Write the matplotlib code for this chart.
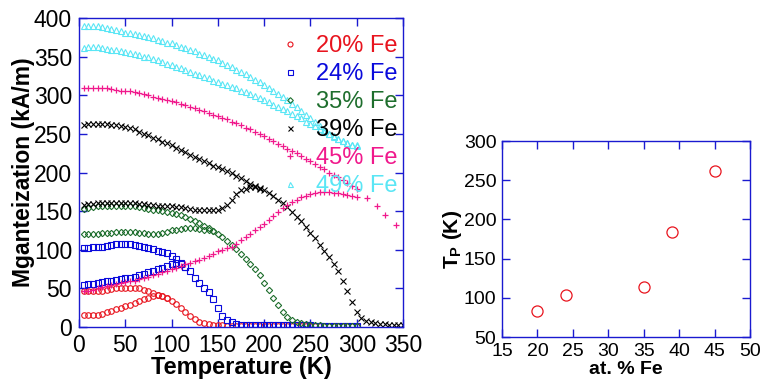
import matplotlib
matplotlib.use('Agg')
import matplotlib.pyplot as plt

plt.rcParams['font.family'] = ['Liberation Sans', 'DejaVu Sans']
plt.rcParams['mathtext.fontset'] = 'custom'
plt.rcParams['mathtext.rm'] = 'Liberation Sans'
plt.rcParams['mathtext.bf'] = 'Liberation Sans:bold'

# temperature grid (K) of the measurements
T = list(range(5, 305, 5))
T_tail = list(range(305, 355, 5))

# 20% Fe
fc_20 = [46, 46, 46, 46, 47, 48, 49, 50, 50, 51, 51, 51, 50, 48, 46, 44, 42, 40, 37, 34,
         30, 25, 19, 14, 10, 7, 5, 4, 3, 2, 2, 1.5, 1.5, 1.5, 1.2, 1.2, 1.2, 1, 1, 1,
         1, 1, 1, 1, 1, 1, 1, 1, 1, 1, 1, 1, 1, 1, 1, 1, 1, 1, 1, 1]
zfc_20 = [15, 15, 15.5, 16, 17, 19, 21, 23, 25, 27, 29, 31, 34, 36, 38, 40, 41, 40, 37]
# 24% Fe
fc_24 = [102, 102, 103, 103, 104, 105, 106, 107, 107, 107, 107, 106, 105, 104, 102, 101, 99, 97, 96, 92,
         88, 83, 78, 72, 64, 57, 51, 45, 36, 25, 14, 9, 6, 4, 3, 3, 2.5, 2.5, 2.5, 2,
         2, 2, 2, 2, 2, 2, 2, 2, 2, 2, 1.5, 1.5, 1.5, 1.5, 1.5, 1.5, 1.5, 1.5, 1.5, 1.5]
zfc_24 = [55, 56, 56, 57, 58, 59, 60, 61, 62, 63, 64, 65, 67, 69, 71, 73, 75, 77, 79, 81,
          83, 82, 78]
# 35% Fe
fc_35 = [153, 154, 155, 156, 156, 157, 157, 157, 157, 157, 156, 156, 155, 154, 153, 152, 151, 150, 149, 148,
         146, 145, 143, 140, 137, 134, 131, 128, 124, 120, 116, 111, 106, 101, 95, 88, 82, 75, 67, 57,
         48, 38, 29, 20, 13, 9, 7, 5, 4, 3, 2, 2, 1.5, 1.5, 1.5, 1, 1, 1, 1, 1]
zfc_35 = [120, 120, 121, 121, 122, 122, 122, 123, 123, 123, 123, 123, 122, 122, 121, 121, 121, 122, 123, 125,
          126, 127, 128, 128, 128, 127, 126, 125, 124]
# 39% Fe
fc_39 = [262, 263, 263, 263, 263, 263, 262, 261, 260, 259, 257, 256, 253, 250, 248, 245, 243, 240, 238, 235,
         232, 229, 226, 223, 220, 218, 215, 212, 209, 207, 204, 202, 199, 196, 193, 189, 185, 182, 179, 177,
         173, 169, 165, 161, 155, 149, 143, 137, 130, 122, 115, 106, 98, 90, 82, 72, 60, 46, 32, 20]
fc_39_tail = [12, 8, 6, 5, 4, 4, 3, 3, 3, 3]
zfc_39 = [158, 159, 159, 160, 160, 161, 161, 161, 161, 161, 160, 160, 159, 159, 158, 158, 157, 157, 156, 156,
          155, 155, 154, 153, 152, 152, 151, 151, 151, 152, 154, 158, 165, 172, 177, 179, 181, 181, 180]
# 45% Fe
fc_45 = [310, 310, 310, 310, 309, 309, 308, 307, 306, 305, 305, 304, 303, 301, 300, 298, 297, 295, 294, 292,
         291, 289, 287, 285, 283, 281, 279, 277, 275, 273, 271, 269, 266, 264, 261, 258, 256, 253, 250, 247,
         244, 241, 237, 234, 231, 228, 225, 222, 218, 215, 211, 207, 204, 200, 197, 194, 190, 186, 182, 178]
T_45_tail = [311, 322, 331, 342]
fc_45_tail = [167, 156, 145, 132]
zfc_45 = [46, 47, 48, 50, 52, 53, 54, 56, 57, 58, 59, 60, 62, 64, 65, 67, 69, 71, 72, 75,
          77, 79, 81, 83, 85, 87, 89, 92, 95, 98, 100, 102, 104, 108, 112, 117, 121, 125, 129, 133,
          138, 144, 149, 154, 158, 162, 165, 168, 170, 172, 174, 175, 175, 175, 174, 173, 172, 171, 170, 168]
# 49% Fe
fc_49 = [389, 389, 389, 389, 388, 387, 386, 384, 383, 381, 380, 379, 378, 377, 376, 374, 372, 370, 368, 367,
         365, 363, 361, 359, 357, 354, 352, 350, 347, 345, 342, 339, 336, 333, 330, 327, 324, 320, 317, 313,
         310, 306, 302, 298, 294, 289, 285, 280, 275, 270, 265, 260, 255, 250, 246, 243, 241, 238, 236, 235]
zfc_49 = [361, 362, 362, 362, 361, 360, 359, 358, 357, 356, 355, 353, 352, 350, 349, 347, 345, 343, 341, 339,
          337, 335, 333, 330, 328, 326, 324, 322, 319, 317, 315, 313, 311, 309, 306, 304, 301, 299, 296, 294,
          291, 288, 285, 282, 279, 276, 273, 270, 266, 263, 260, 256, 253, 250, 247, 244, 241, 238, 236, 234]

# peak temperature vs composition
fe_pct = [20, 24, 35, 39, 45]
t_peak = [83, 103, 114, 184, 262]

c_red = '#e8141e'
c_blue = '#0a0adc'
c_green = '#1e6e2d'
c_black = '#000000'
c_pink = '#f0198c'
c_cyan = '#5ae6f5'
spine_col = '#1a1ad0'

fig = plt.figure(figsize=(7.61, 3.79), dpi=100)
ax = fig.add_axes([0.1038, 0.1372, 0.4258, 0.8153])
ax2 = fig.add_axes([0.6597, 0.1108, 0.3259, 0.517])

mk = dict(linestyle='none', fillstyle='none', markersize=4, markeredgewidth=0.8)

h20, = ax.plot(T, fc_20, 'o', color=c_red, **mk)
ax.plot(T[:len(zfc_20)], zfc_20, 'o', color=c_red, **mk)
h24, = ax.plot(T, fc_24, 's', color=c_blue, **mk)
ax.plot(T[:len(zfc_24)], zfc_24, 's', color=c_blue, **mk)
h35, = ax.plot(T, fc_35, 'D', color=c_green, markersize=3.2, markeredgewidth=0.8,
               linestyle='none', fillstyle='none')
ax.plot(T[:len(zfc_35)], zfc_35, 'D', color=c_green, markersize=3.2, markeredgewidth=0.8,
        linestyle='none', fillstyle='none')
h39, = ax.plot(T + T_tail, fc_39 + fc_39_tail, 'x', color=c_black, **mk)
ax.plot(T[:len(zfc_39)], zfc_39, 'x', color=c_black, **mk)
h45, = ax.plot(T + T_45_tail, fc_45 + fc_45_tail, '+', color=c_pink, markersize=5, markeredgewidth=0.9,
               linestyle='none')
ax.plot(T, zfc_45, '+', color=c_pink, markersize=5, markeredgewidth=0.9, linestyle='none')
h49, = ax.plot(T, fc_49, '^', color=c_cyan, **mk)
ax.plot(T, zfc_49, '^', color=c_cyan, **mk)

leg = ax.legend([h20, h24, h35, h39, h45, h49],
                ['20% Fe', '24% Fe', '35% Fe', '39% Fe', '45% Fe', '49% Fe'],
                loc='upper left', bbox_to_anchor=(0.581, 0.99), frameon=False,
                fontsize=17, labelspacing=0.25, handlelength=0.7, handletextpad=0.75,
                numpoints=1, borderpad=0.1, labelcolor='markeredgecolor', markerscale=0.9)

ax.set_xlim(0, 350)
ax.set_ylim(0, 400)
ax.set_xticks(range(0, 351, 50))
ax.set_yticks(range(0, 401, 50))
ax.set_xlabel('Temperature (K)', fontsize=17, fontweight='bold', labelpad=-1)
ax.set_ylabel('Mganteization (kA/m)', fontsize=16.5, fontweight='bold', labelpad=-1)

ax2.plot(fe_pct, t_peak, 'o', color=c_red, fillstyle='none', markersize=8, markeredgewidth=0.9,
         linestyle='none')
ax2.set_xlim(15, 50)
ax2.set_ylim(50, 300)
ax2.set_xticks(range(15, 51, 5))
ax2.set_yticks(range(50, 301, 50))
ax2.set_xlabel('at. % Fe', fontsize=14, fontweight='bold', labelpad=1)
ax2.set_ylabel(r'$\mathbf{T_P}$ (K)', fontsize=15, fontweight='bold', labelpad=0)

for a, fs, pd in ((ax, 16.5, 5), (ax2, 14, 4)):
    for s in a.spines.values():
        s.set_color(spine_col)
        s.set_linewidth(1)
    a.tick_params(direction='in', length=6, width=1, color=spine_col, top=True, right=True,
                  labelsize=fs, pad=pd)

fig.savefig('out.png', dpi=100)
